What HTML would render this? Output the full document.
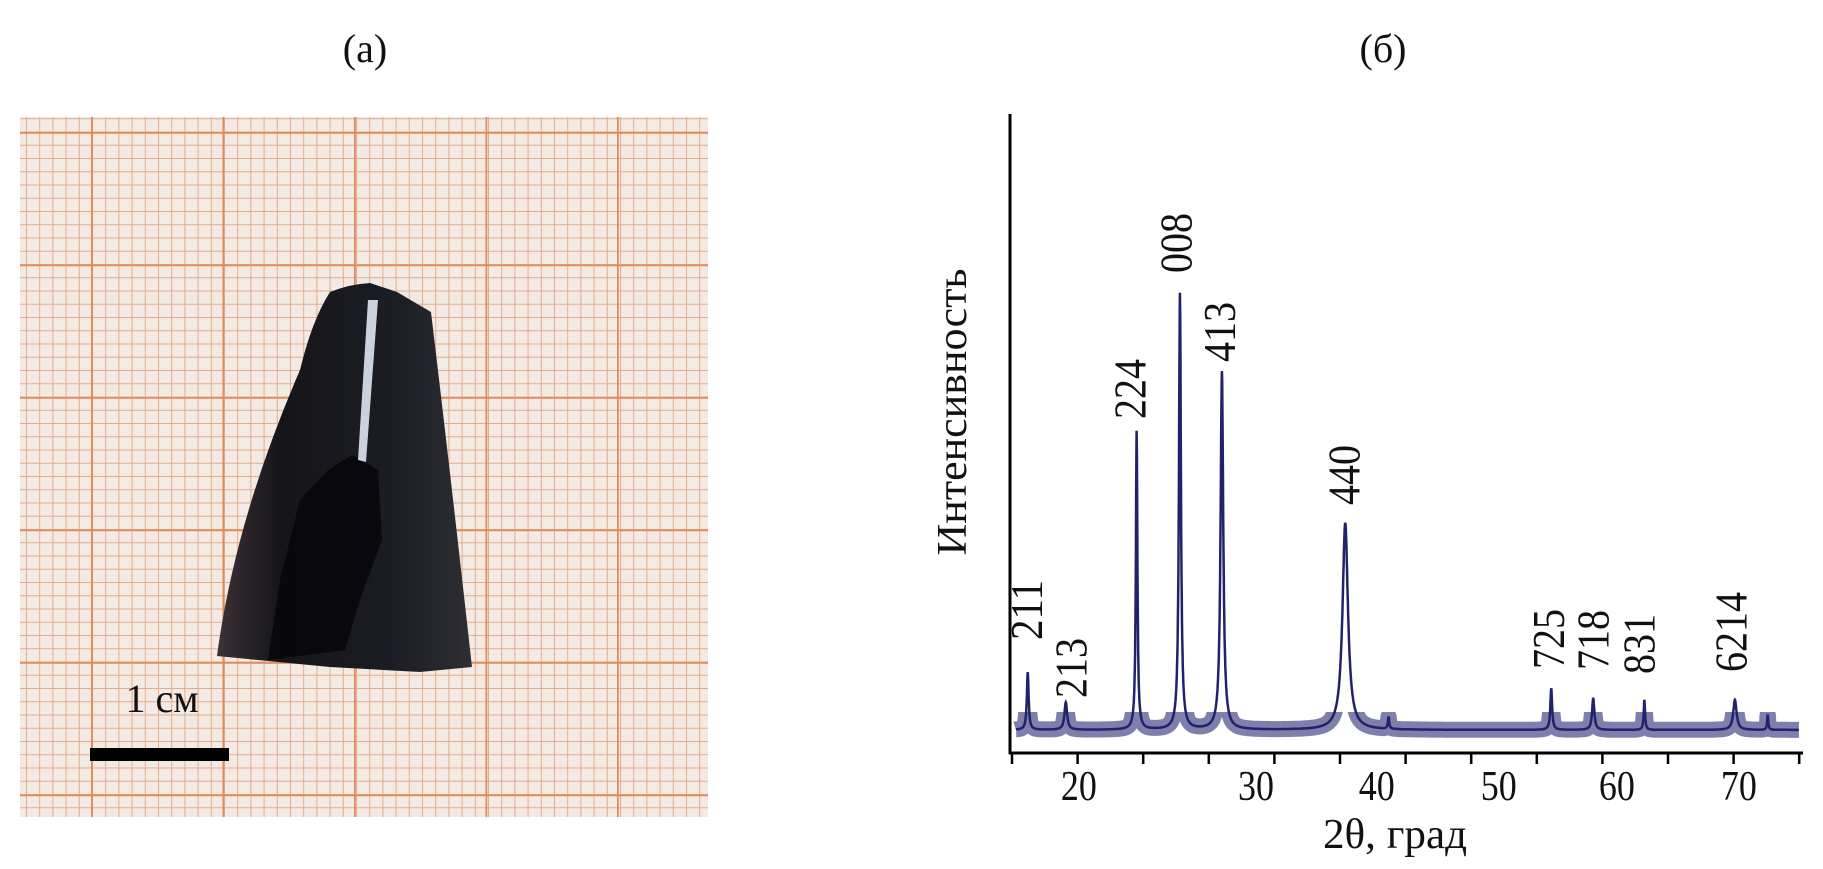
<!DOCTYPE html>
<html><head><meta charset="utf-8"><style>
html,body{margin:0;padding:0;background:#fff}
svg{display:block}
text{font-family:"Liberation Serif",serif;fill:#111}
</style></head><body>
<svg id="fig" width="1823" height="869" viewBox="0 0 1823 869" xmlns="http://www.w3.org/2000/svg">
  <text x="365" y="62" font-size="40" text-anchor="middle">(a)</text>
  <text x="1383" y="62" font-size="40" text-anchor="middle">(б)</text>

  <g>
    <defs>
      <pattern id="minor" width="13.2" height="13.25" patternUnits="userSpaceOnUse" x="-40" y="-1">
        <path d="M0 0H13.2M0 0V13.25" stroke="#e2ab8c" stroke-width="2" fill="none"/>
      </pattern>
      <pattern id="major" width="131.5" height="132.5" patternUnits="userSpaceOnUse" x="-40.5" y="-0.5">
        <path d="M0 0H131.5M0 0V132.5" stroke="#e08a5a" stroke-width="3.5" fill="none"/>
      </pattern>
      <linearGradient id="cone" x1="0" x2="1" y1="0" y2="0">
        <stop offset="0" stop-color="#3a3236"/>
        <stop offset="0.25" stop-color="#151519"/>
        <stop offset="0.7" stop-color="#1c1d25"/>
        <stop offset="1" stop-color="#2e2e34"/>
      </linearGradient>
      <clipPath id="baseClip"><rect x="1000" y="712" width="820" height="50"/></clipPath>
    </defs>
    <rect x="20" y="117" width="688" height="700" fill="#f3ebe3"/>
    <rect x="20" y="117" width="688" height="700" fill="url(#minor)"/>
    <rect x="20" y="117" width="688" height="700" fill="url(#major)"/>
    <path d="M330 292 Q350 284 370 283 Q385 288 397 292 L431 312 Q450 470 472 667 L420 672 L330 667 L217 656 Q235 520 300 370 Q312 320 330 292 Z" fill="url(#cone)"/>
    <path d="M300 500 L328 470 L352 455 L378 470 L382 540 L360 600 L345 650 L268 660 L280 580 Z" fill="#06060a" opacity="0.85"/>
    <path d="M368 300 L378 300 L366 462 L358 460 Z" fill="#dfe6f2" opacity="0.9"/>
    <rect x="90" y="748" width="139" height="13" fill="#000"/>
    <text x="162" y="712" font-size="40" text-anchor="middle">1 см</text>
  </g>

  <g id="chart"></g>
</svg>
<script>
const xTickValues = [15,20,25,30,35,40,45,50,55,60,65,70,75];
const xTickLabels = ["20","30","40","50","60","70"];
const xLabelAnchors = [20.1,33.6,42.8,52.1,61.1,70.4];
const peakPositions = [16.2,19.1,24.5,27.8,31.0,40.4,43.7,56.1,59.3,63.2,70.1,72.6];
const peakHeights   = [126,79,502,717,595,359,55,101,86,83,83,60];
const peakWidths    = [0.08,0.12,0.07,0.09,0.12,0.25,0.06,0.08,0.1,0.06,0.15,0.05];
const baselineLevel = 36;
const peakLabels    = ["211","213","224","008","413","440","725","718","831","6214"];
const peakLabelX    = [16.1,19.5,24.0,27.5,30.8,40.3,55.9,59.3,62.8,69.8];
const peakLabelY    = [610,668,389,243,332,475,639,640,644,632];

const NS="http://www.w3.org/2000/svg";
const g=document.getElementById('chart');
const X0=1010,X1=1803,Y0=753,YT=114;
const xs=v=>1012+(v-15)*13.12;
const ys=v=>Y0-v*0.641;
function mk(t,a){const e=document.createElementNS(NS,t);for(const k in a)e.setAttribute(k,a[k]);g.appendChild(e);return e;}

const ya=mk('line',{x1:X0,y1:YT,x2:X0,y2:Y0+1,stroke:'#000','stroke-width':3});


const xa=mk('line',{x1:X0-1,y1:Y0,x2:X1,y2:Y0,stroke:'#000','stroke-width':3});


xTickValues.forEach(v=>{
  const t=mk('line',{x1:xs(v),y1:Y0,x2:xs(v),y2:Y0+11,stroke:'#000','stroke-width':2.5});
  
  
});
xTickLabels.forEach((s,i)=>{
  const t=mk('text',{x:xs(xLabelAnchors[i]),y:800,'font-size':42,'text-anchor':'middle',textLength:36,lengthAdjust:'spacingAndGlyphs'});
  t.textContent=s;
  
  
});
const xt=mk('text',{x:1395,y:848,'font-size':42,'text-anchor':'middle',textLength:144,lengthAdjust:'spacingAndGlyphs'});
xt.textContent='2θ, град';


const yt=mk('text',{x:0,y:0,'font-size':42,'text-anchor':'middle','dominant-baseline':'central',transform:'translate(953,412) rotate(-90)',textLength:287,lengthAdjust:'spacingAndGlyphs'});
yt.textContent='Интенсивность';



let d='';
for(let v=15.3;v<=75;v+=0.02){
  let I=baselineLevel;
  for(let i=0;i<peakPositions.length;i++){
    const w=peakWidths[i],dx=v-peakPositions[i];
    I+=(peakHeights[i]-baselineLevel)*w*w/(dx*dx+w*w);
  }
  d+=(d?'L':'M')+xs(v).toFixed(1)+' '+ys(I).toFixed(1);
}
const bl=mk('path',{d:d,fill:'none',stroke:'#2a2a74','stroke-width':16,'stroke-opacity':0.6,'stroke-linejoin':'round','clip-path':'url(#baseClip)'});


const p=mk('path',{d:d,fill:'none',stroke:'#22226c','stroke-width':2.5});



peakLabels.forEach((s,i)=>{
  const x=xs(peakLabelX[i]),y=peakLabelY[i];
  const t=mk('text',{x:0,y:0,'font-size':46,'text-anchor':'middle','dominant-baseline':'central',transform:`translate(${x},${y}) rotate(-90)`,textLength:s.length*20,lengthAdjust:'spacingAndGlyphs'});
  t.textContent=s;
  
  
});
</script>
</body></html>
